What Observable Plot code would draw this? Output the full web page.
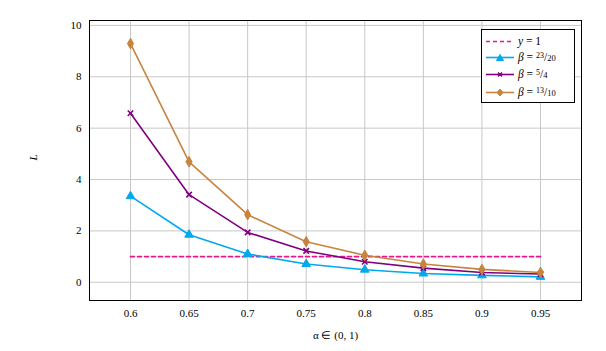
<!DOCTYPE html>
<html>
<head>
<meta charset="utf-8">
<script src="https://cdn.jsdelivr.net/npm/d3@7"></script>
<script src="https://cdn.jsdelivr.net/npm/@observablehq/plot@0.6"></script>
<style>
  html, body { margin: 0; padding: 0; background: #fff; }
  #wrap { position: relative; width: 606px; height: 351px; font-family: "Liberation Serif", "Times New Roman", serif; }
  #legend { position: absolute; left: 481px; top: 29px; width: 94px; height: 74px; border: 1px solid #000; background: #fff; font-size: 11.5px; color: #000; box-sizing: border-box; }
  #legend .row { position: absolute; left: 0; height: 14px; display: flex; align-items: center; white-space: nowrap; }
  #legend svg { margin-left: 4px; margin-right: 4px; }
  #legend sup { font-size: 8px; vertical-align: 3px; }
  #legend sub { font-size: 8.5px; vertical-align: 0px; }
</style>
</head>
<body>
<div id="wrap"></div>
<script>
const alpha = [0.6, 0.65, 0.7, 0.75, 0.8, 0.85, 0.9, 0.95];
const beta2320 = [3.35, 1.85, 1.10, 0.71, 0.49, 0.34, 0.27, 0.21];
const beta54 = [6.58, 3.41, 1.94, 1.22, 0.80, 0.55, 0.38, 0.32];
const beta1310 = [9.29, 4.69, 2.63, 1.58, 1.05, 0.71, 0.50, 0.38];
const refLine = [1, 1];
const refX = [0.6, 0.95];
const xTicks = [0.6, 0.65, 0.7, 0.75, 0.8, 0.85, 0.9, 0.95];
const yTicks = [0, 2, 4, 6, 8, 10];

const colors = { c23: "#00a9ec", c54: "#800080", c1310: "#c8843f", ref: "#e6188f" };

const series = [
  { key: "c23", values: beta2320, symbol: "triangle", fill: true },
  { key: "c54", values: beta54, symbol: "times", fill: false },
  { key: "c1310", values: beta1310, symbol: "diamond", fill: true }
];
const rows = series.flatMap(s => alpha.map((a, i) => ({ a, v: s.values[i], key: s.key })));
const refRows = refX.map((a, i) => ({ a, v: refLine[i] }));

const marks = [
  Plot.gridX(xTicks, { stroke: "#c8c8c8", strokeOpacity: 1, strokeWidth: 1 }),
  Plot.gridY(yTicks, { stroke: "#c8c8c8", strokeOpacity: 1, strokeWidth: 1 }),
  Plot.line(refRows, { x: "a", y: "v", stroke: colors.ref, strokeWidth: 1.7, strokeDasharray: "4,3" })
];
for (const s of series) {
  const d = rows.filter(r => r.key === s.key);
  marks.push(Plot.line(d, { x: "a", y: "v", stroke: colors[s.key], strokeWidth: 1.6 }));
  marks.push(Plot.dot(d, { x: "a", y: "v", symbol: () => s.symbol, r: s.symbol === "times" ? 2.6 : 3.2,
    fill: s.fill ? colors[s.key] : "none", stroke: colors[s.key], strokeWidth: s.fill ? 1 : 1.6 }));
}
marks.push(Plot.frame({ stroke: "#000", strokeWidth: 1 }));
marks.push(Plot.axisX(xTicks, { tickSize: 0, tickPadding: 9, tickFormat: d => String(d), fontSize: 11, label: null }));
marks.push(Plot.axisY(yTicks, { tickSize: 0, tickPadding: 8, tickFormat: d => String(d), fontSize: 11, label: null }));
marks.push(Plot.text(["α ∈ (0, 1)"], { frameAnchor: "bottom", dy: 38, fontSize: 11 }));
marks.push(Plot.text(["L"], { frameAnchor: "left", dx: -56, rotate: -90, fontSize: 11, fontStyle: "italic" }));

const chart = Plot.plot({
  width: 606,
  height: 351,
  marginLeft: 89,
  marginRight: 25,
  marginTop: 20,
  marginBottom: 51,
  style: { fontFamily: "'Liberation Serif', 'Times New Roman', serif", fontSize: "11px", color: "#000", background: "#fff" },
  x: { domain: [0.565, 0.985] },
  y: { domain: [-0.71, 10.19] },
  symbol: { type: "identity" },
  marks
});
document.getElementById("wrap").appendChild(chart);

// legend
const legendItems = [
  { label: '<i>y</i> = 1', color: colors.ref, dash: true, symbol: null },
  { label: '<i>β</i> = <sup>23</sup>/<sub>20</sub>', color: colors.c23, symbol: "triangle" },
  { label: '<i>β</i> = <sup>5</sup>/<sub>4</sub>', color: colors.c54, symbol: "times" },
  { label: '<i>β</i> = <sup>13</sup>/<sub>10</sub>', color: colors.c1310, symbol: "diamond" }
];
const legend = document.createElement("div");
legend.id = "legend";
const tops = [4, 20, 37, 55];
legendItems.forEach((it, i) => {
  const row = document.createElement("div");
  row.className = "row";
  row.style.top = tops[i] + "px";
  let sym = "";
  if (it.symbol === "triangle") sym = `<path d="M14,3.5 L17.5,9.5 L10.5,9.5 Z" fill="${it.color}" stroke="${it.color}"/>`;
  if (it.symbol === "times") sym = `<path d="M12,4.5 L16,8.5 M16,4.5 L12,8.5" stroke="${it.color}" stroke-width="1.6"/>`;
  if (it.symbol === "diamond") sym = `<path d="M14,3 L17,6.5 L14,10 L11,6.5 Z" fill="${it.color}" stroke="${it.color}"/>`;
  row.innerHTML = `<svg width="28" height="13"><line x1="0" y1="6.5" x2="28" y2="6.5" stroke="${it.color}" stroke-width="1.6" ${it.dash ? 'stroke-dasharray="4,3"' : ''}/>${sym}</svg><span>${it.label}</span>`;
  legend.appendChild(row);
});
document.getElementById("wrap").appendChild(legend);
</script>
</body>
</html>
